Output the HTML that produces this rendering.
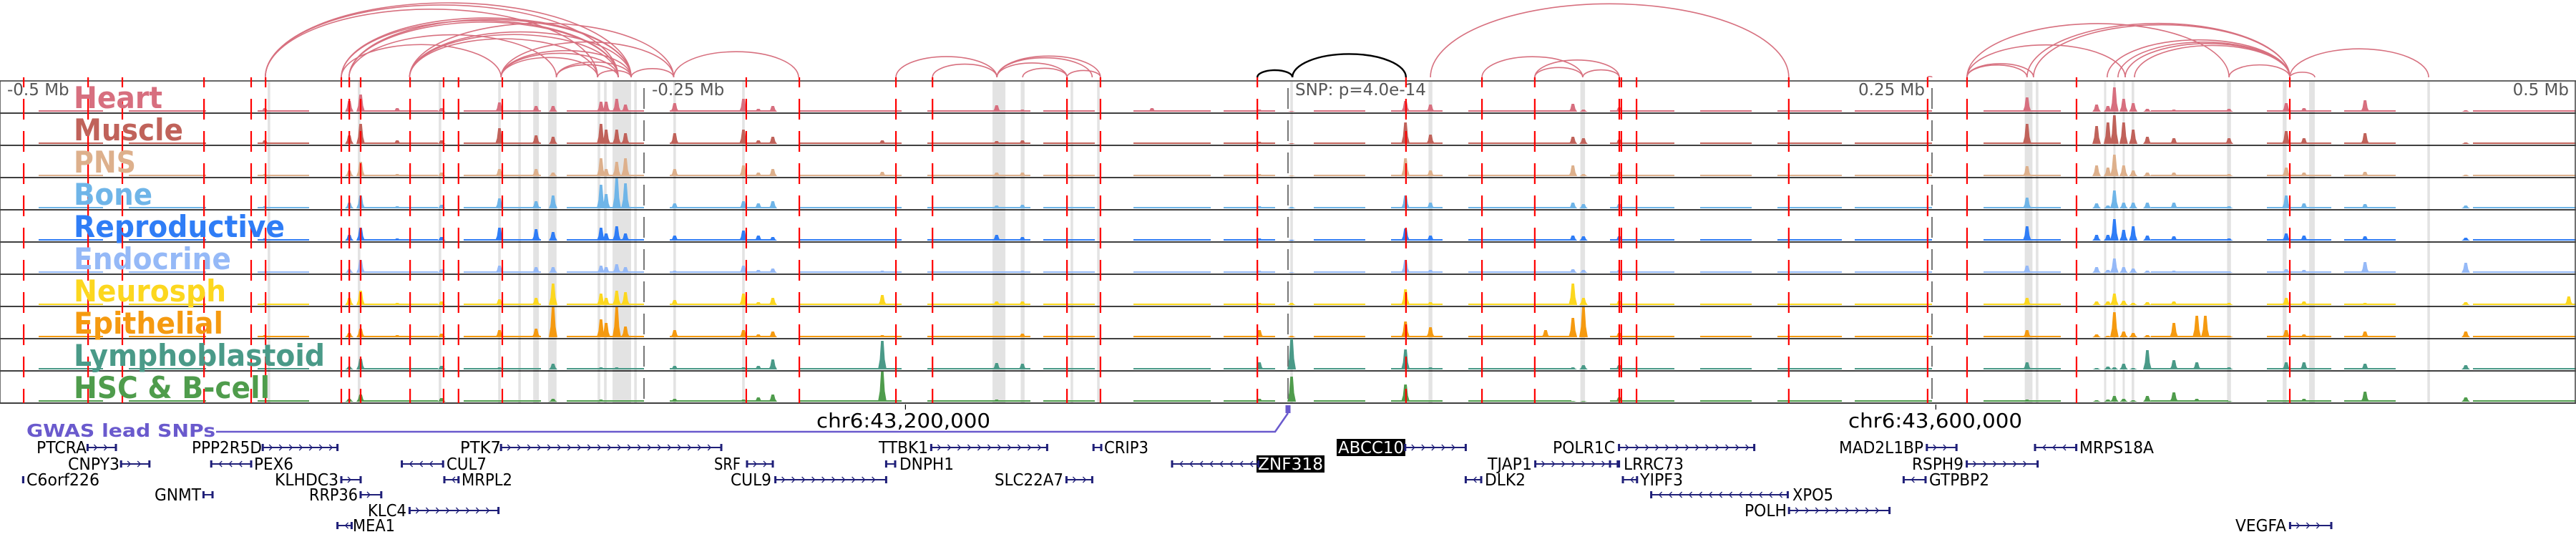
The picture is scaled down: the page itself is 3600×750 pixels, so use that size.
<!DOCTYPE html>
<html><head><meta charset="utf-8"><title>Regulatory tracks</title>
<style>
html,body{margin:0;padding:0;background:#fff;}
svg{display:block;font-family:"DejaVu Sans","Liberation Sans",sans-serif;}
</style></head>
<body>
<svg id="chart" width="3600" height="750" viewBox="0 0 3600 750" xmlns="http://www.w3.org/2000/svg">
<g id="arcs"></g>
<g id="bands"></g>
<g id="tracks"></g>
<g id="lines"></g>
<g id="labels"></g>
<g id="axis"></g>
<g id="genes"></g>
</svg>
<script>
// ---- data (genomic offsets in kb relative to lead SNP) ----
const trackNames = ["Heart","Muscle","PNS","Bone","Reproductive","Endocrine","Neurosph","Epithelial","Lymphoblastoid","HSC & B-cell"];
const trackColors = ["#d76f7f","#c0625a","#ddb08c","#6fb5e8","#2f7df6","#95b9f7","#fcd71f","#f59a10","#4a9a88","#4f9c4c"];
const labelWidths = [124,153,87,110,295,220,213,209,351,274];
const peakKb = [-397.2,-364.4,-360,-345.8,-328.6,-306.1,-291.9,-285.3,-266.7,-264.7,-260.6,-257.2,-238.1,-211.4,-205.6,-200,-157.5,-113.1,-103.1,-52.8,-11.1,1.4,45.6,55.3,100,110.6,114.7,128.6,286.9,313.9,318.3,320.8,324.4,328.1,333.6,343.9,352.8,356.1,365.3,387.5,394.4,418.1,457.2,497.2];
const heartH  = [5,15,24,5,5,13,8,8,14,14,18,10,12,18,4,8,2,9,3,5,3,1,15,10,1,11,3,6,20,10,8,34,18,12,4,3,1,1,4,12,5,16,2,1];
const muscleH = [5,12,28,5,5,22,12,10,28,20,20,15,15,20,5,10,5,4,5,2,3,1,30,13,1,10,8,6,28,25,30,40,30,20,10,8,1,1,8,18,8,15,2,1];
const pnsH    = [3,8,20,3,5,10,10,5,25,10,20,25,10,15,5,10,6,5,5,2,3,1,25,8,1,15,3,6,14,15,12,30,15,8,5,5,1,1,3,12,5,6,2,1];
const boneH   = [3,8,18,3,5,14,10,18,33,20,42,35,7,10,7,10,2,4,5,1,3,2,18,8,1,8,6,6,15,7,4,25,8,8,8,8,1,1,3,18,7,6,4,2];
const reproH  = [3,8,18,3,5,18,16,12,18,10,20,10,7,14,7,5,2,8,5,1,3,1,17,7,1,7,6,6,20,8,8,30,15,20,7,6,1,1,3,10,7,6,4,1];
const endoH   = [2,5,18,2,5,10,8,8,10,8,12,8,3,10,4,6,3,2,3,1,3,1,18,4,1,5,4,4,10,8,4,20,8,6,3,3,1,1,2,5,4,15,14,1];
const neuroH  = [3,10,20,3,5,8,10,30,16,10,20,18,7,16,4,10,14,5,5,1,3,3,22,4,1,30,10,6,10,5,5,16,6,3,4,5,1,1,3,10,5,3,4,12];
const epiH    = [3,6,12,3,5,10,12,42,25,20,42,15,10,10,4,8,3,2,5,1,10,2,22,14,10,27,42,6,10,4,2,35,8,6,3,20,30,30,2,10,4,8,8,1];
const lymphoH = [2,4,15,2,5,3,2,8,3,2,3,2,5,3,5,14,40,9,8,1,10,43,28,3,1,3,6,6,10,2,4,3,8,2,27,13,10,2,3,10,10,8,6,1];
const hscH    = [2,4,10,2,5,2,2,4,3,2,2,2,4,3,6,10,42,3,2,1,4,35,24,1,1,1,1,6,3,2,3,8,4,2,8,13,4,1,1,2,4,14,6,1];
const heights = [heartH,muscleH,pnsH,boneH,reproH,endoH,neuroH,epiH,lymphoH,hscH];
const bgSegKb = [[-485,-460],[-450,-420],[-400,-380],[-360,-330],[-320,-290],[-280,-250],[-240,-200],[-190,-150],[-140,-100],[-95,-75],[-60,-30],[-25,-5],[10,30],[40,60],[70,110],[125,150],[160,180],[190,215],[220,250],[270,300],[335,365],[380,405],[410,430],[460,520],[530,560],[600,630],[640,700],[710,760],[770,830],[840,900],[910,960],[970,1000]];
const redKb = [-490.8,-465.8,-452.5,-420.8,-402.5,-396.9,-367.5,-364.4,-360,-340.8,-327.8,-322,-305,-210.3,-189.7,-152.2,-138,-85.8,-72.8,-11.9,45.8,75.3,95.8,128.6,129.4,135.3,194.4,248.3,263.6,306.1,388.9];
const grayBandKb = [[-395.6,1],[-360.6,1],[-329.2,1],[-306.1,1],[-298.3,1],[-291.9,2.2],[-285.6,3.3],[-267.5,1],[-265,1],[-258.6,7.2],[-253.3,1],[-238.1,1],[-211.4,1],[-112.2,5],[-103,1.5],[-83.9,1],[-73.6,1],[1.4,1],[55.3,1.5],[114.4,1.8],[287.5,3],[290.8,1],[317.2,0.8],[320.8,0.8],[324.4,0.8],[328,1],[365.3,1.5],[386.9,1.5],[397.5,2.2],[442.8,1]];
const tickKb = [-250,0,250];
const axisLabels = ["-0.5 Mb","-0.25 Mb","SNP: p=4.0e-14","0.25 Mb","0.5 Mb"];
const arcPairsKb = [[-397,-255],[-397,-260],[-367.5,-260],[-364.5,-255],[-341,-260],[-341,-255],[-305.5,-260],[-305.5,-255],[-305.5,-268],[-284,-260],[-284,-255],[-364.5,-284],[-367.5,-305.5],[-341,-268],[-268,-255],[-255,-238.5],[-305.5,-238.5],[-367.5,-255],[-397,-268],[-364.5,-260],[-341,-238.5],[-238.5,-190],
 [-152.2,-113],[-138,-113],[-113,-85.8],[-113,-72.8],[-103,-85.8],[-85.8,-72.8],[-113,-76],
 [55.3,194.4],[75.3,114.4],[95.8,114.4],[95.8,128.6],[114.4,128.6],
 [263.6,286.9],[263.6,289.4],[263.6,325],[263.6,365.3],[289.4,388.9],[286.9,388.9],[318,388.9],[322.2,388.9],[325,388.9],[328.6,388.9],[365.3,388.9],[388.9,398.6],[388.9,442.8],[248.3,250]];
const blackArcPairsKb = [[-11.9,1.7],[1.7,45.8]];
const genes = [
 // name,label x0,label x1,row,gene start kb,gene end kb,strand,boxed
 ["PTCRA",51,121,0,-466,-455,1,0],["CNPY3",95,167,1,-453,-442,1,0],["C6orf226",37,139,2,-491,-491,1,0],
 ["GNMT",216,281,3,-421,-417.5,1,0],["PPP2R5D",268,366,0,-398,-369,1,0],["PEX6",355,410,1,-418,-402.5,-1,0],
 ["KLHDC3",384,473,2,-367.5,-360,1,0],["RRP36",432,500,3,-360,-352,1,0],["KLC4",514,568,4,-341,-306.5,1,0],
 ["MEA1",493,552,5,-369,-363.5,-1,0],["PTK7",643,700,0,-305.5,-220,1,0],["CUL7",624,680,1,-344,-328,-1,0],
 ["MRPL2",645,716,2,-327.5,-322,-1,0],["SRF",998,1035,1,-210,-200,1,0],["CUL9",1021,1078,2,-199,-156,1,0],
 ["TTBK1",1228,1297,0,-138.5,-93.5,1,0],["DNPH1",1257,1333,1,-156,-152.5,-1,0],["SLC22A7",1390,1486,2,-86,-76,1,0],
 ["CRIP3",1543,1605,0,-75.5,-72.5,-1,0],["ZNF318",1758,1849,1,-45,-11.5,-1,1],["ABCC10",1870,1962,0,45.5,69,1,1],
 ["POLR1C",2170,2257,0,128.5,181,1,0],["TJAP1",2079,2141,1,96,128,1,0],["LRRC73",2269,2353,1,125,128.5,-1,0],
 ["DLK2",2075,2132,2,69,75,-1,0],["YIPF3",2292,2352,2,130,135.5,-1,0],["XPO5",2505,2562,3,141,194,-1,0],
 ["POLH",2438,2497,4,194.5,233.5,1,0],["MAD2L1BP",2570,2688,0,248,259.5,1,0],["RSPH9",2672,2744,1,263.5,291,1,0],
 ["GTPBP2",2696,2780,2,239,247.5,-1,0],["MRPS18A",2906,3010,0,290,306,-1,0],["VEGFA",3124,3195,5,389,405,1,0]
];
// ---- scales ----
const NS="http://www.w3.org/2000/svg";
const X = kb => 1800 + kb*3.6;
const TOP=113, TH=45;
const trackBase = i => TOP + TH*(i+1) - 2;
function mk(tag, attrs, parent){const e=document.createElementNS(NS,tag);for(const k in attrs)e.setAttribute(k,attrs[k]);parent.appendChild(e);return e;}
const gArcs=document.getElementById('arcs'),gBands=document.getElementById('bands'),gTracks=document.getElementById('tracks'),
 gLines=document.getElementById('lines'),gLabels=document.getElementById('labels'),gAxis=document.getElementById('axis'),gGenes=document.getElementById('genes');
const ARCBASE=108;
function arc(a,b,color,w,parent,name){
 const x1=X(a),x2=X(b),rx=(x2-x1)/2,ry=Math.min(0.205*(x2-x1),104);
 const p=mk('path',{d:`M${x1},${ARCBASE} A${rx},${ry} 0 0 1 ${x2},${ARCBASE}`,fill:'none',stroke:color,'stroke-width':w},parent);
 
 
}
arcPairsKb.forEach(pr=>arc(pr[0],pr[1],'#d7707f',1.6,gArcs,'interaction-arc'));
blackArcPairsKb.forEach(pr=>arc(pr[0],pr[1],'#000',2.4,gArcs,'snp-interaction-arc'));
grayBandKb.forEach(b=>{
 const r=mk('rect',{x:X(b[0])-b[1]*1.8,y:TOP,width:Math.max(b[1]*3.6,3),height:TH*10,fill:'#e3e3e3'},gBands);
 
 
});
trackNames.forEach((nm,i)=>{
 const g=mk('g',{},gTracks);
 
 
 const base=trackBase(i),col=trackColors[i];
 bgSegKb.forEach(s=>{
  const r=mk('rect',{x:X(s[0]),y:base-2,width:Math.max(X(s[1])-X(s[0]),0),height:2,fill:col},g);
  
  
 });
 peakKb.forEach((p,j)=>{
  const h=heights[i][j],x=X(p);
  const pg=mk('polygon',{points:`${x-6},${base} ${x-3.5},${base-h*0.35} ${x-1.8},${base-h} ${x+1.8},${base-h} ${x+3.5},${base-h*0.35} ${x+6},${base}`,fill:col},g);
  
  
 });
 const sep=mk('line',{x1:0,x2:3600,y1:TOP+TH*(i+1),y2:TOP+TH*(i+1),stroke:'#000','stroke-width':1.6},g);
 
 
 const t=mk('text',{x:103,y:TOP+TH*(i+1)-7,'font-size':42,'font-weight':'bold',fill:col,textLength:labelWidths[i],lengthAdjust:'spacingAndGlyphs'},gLabels);
 t.textContent=nm;
 
 
});
const topB=mk('line',{x1:0,x2:3600,y1:TOP,y2:TOP,stroke:'#666','stroke-width':2},gLines);


[0,3599].forEach(xx=>{const l=mk('line',{x1:xx,x2:xx,y1:TOP,y2:TOP+TH*10,stroke:'#444','stroke-width':1.5},gLines);
 
 });
redKb.forEach(k=>{
 const l=mk('line',{x1:X(k),x2:X(k),y1:ARCBASE,y2:TOP+TH*10,stroke:'#f00','stroke-width':2.2,'stroke-dasharray':'29 16','stroke-dashoffset':15},gLines);
 
 
});
tickKb.forEach(k=>{
 const l=mk('line',{x1:X(k),x2:X(k),y1:TOP,y2:TOP+TH*10,stroke:'#777','stroke-width':2,'stroke-dasharray':'29 16','stroke-dashoffset':-10},gLines);
 
 
});
const axPos=[[10,'start'],[X(-250)+11,'start'],[X(0)+10,'start'],[X(250)-10,'end'],[3590,'end']];
axisLabels.forEach((s,i)=>{
 const t=mk('text',{x:axPos[i][0],y:133,'font-size':23,fill:'#555','text-anchor':axPos[i][1]},gAxis);
 t.textContent=s;
 
 
});
[["chr6:43,200,000",-148.5,1141],["chr6:43,600,000",251.5,2583]].forEach(c=>{
 const tk=mk('line',{x1:X(c[1]),x2:X(c[1]),y1:565,y2:572,stroke:'#000','stroke-width':1.2},gAxis);
 
 
 const t=mk('text',{x:c[2],y:597,'font-size':28,fill:'#000',textLength:243,lengthAdjust:'spacingAndGlyphs'},gAxis);
 t.textContent=c[0];
 
 
});
const gw=mk('text',{x:37,y:610,'font-size':25,'font-weight':'bold',fill:'#6a5acd',textLength:264,lengthAdjust:'spacingAndGlyphs'},gGenes);
gw.textContent='GWAS lead SNPs';


const gl=mk('path',{d:`M302,603 L${X(-5)},603 L${X(0)},577`,fill:'none',stroke:'#6a5acd','stroke-width':2.5},gGenes);


const gm=mk('rect',{x:X(0)-3.5,y:566,width:7,height:11,fill:'#6a5acd'},gGenes);


const rowY=[625,648,670,691,713,734];
genes.forEach(g=>{
 const [nm,lx0,lx1,row,s,e,str,boxed]=g, y=rowY[row];
 const grp=mk('g',{},gGenes);
 
 
 if(boxed){const b=mk('rect',{x:lx0-2,y:y-12,width:lx1-lx0+4,height:24,fill:'#000'},grp);
  
  }
 const t=mk('text',{x:lx0,y:y+8,'font-size':23,fill:boxed?'#fff':'#000',textLength:lx1-lx0,lengthAdjust:'spacingAndGlyphs'},grp);
 t.textContent=nm;
 
 
 const x1=X(s),x2=X(e);
 const ln=mk('line',{x1:x1,x2:Math.max(x2,x1+1.5),y1:y,y2:y,stroke:'#1f1f78','stroke-width':2},grp);
 
 
 [x1,x2].forEach(xx=>{const r=mk('rect',{x:xx-1.5,y:y-5,width:3,height:10,fill:'#1f1f78'},grp);
  
  });
 for(let xx=x1+12;xx<x2-6;xx+=14){
  const d=str>0?`M${xx-3},${y-4} L${xx+1},${y} L${xx-3},${y+4}`:`M${xx+3},${y-4} L${xx-1},${y} L${xx+3},${y+4}`;
  const ch=mk('path',{d:d,fill:'none',stroke:'#1f1f78','stroke-width':1.3},grp);
  
  
 }
});
</script>
</body></html>
